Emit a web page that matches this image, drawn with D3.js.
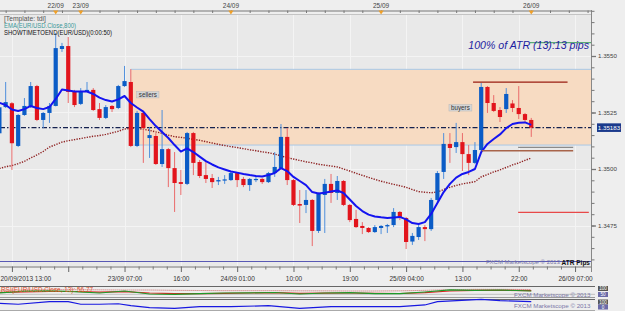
<!DOCTYPE html>
<html><head><meta charset="utf-8">
<script src="https://cdn.jsdelivr.net/npm/d3@7"></script>
<style>body{margin:0;background:#eeeeee;}svg{display:block;font-family:"Liberation Sans",Arial,sans-serif;}</style>
</head><body><svg id="c" width="625" height="311"></svg>
<script>
// ---------- DATA (EUR/USD hourly) ----------
const openP = [1.35158,1.35274,1.35291,1.35102,1.35239,1.35279,1.35367,1.35217,1.35248,1.35279,
1.35531,1.35544,1.35345,1.35288,1.35345,1.35350,1.35265,1.35226,1.35279,1.35270,
1.35367,1.35385,1.35102,1.35248,1.35137,1.35146,1.35022,1.35088,1.35004,1.34942,
1.34934,1.35159,1.35031,1.34973,1.34960,1.34945,1.34949,1.34951,1.34982,1.34956,
1.34929,1.34951,1.34956,1.34942,1.34982,1.35004,1.35142,1.34951,1.34845,1.34841,
1.34863,1.34726,1.34885,1.34934,1.34894,1.34947,1.34841,1.34779,1.34748,1.34739,
1.34721,1.34739,1.34746,1.34752,1.34810,1.34783,1.34679,1.34699,1.34743,1.34734,
1.34863,1.34987,1.35111,1.35097,1.35119,1.35066,1.35027,1.35084,1.35363,1.35292,
1.35261,1.35265,1.35290,1.35270,1.35243,1.35217];
const highP = [1.35283,1.35385,1.35296,1.35243,1.35314,1.35385,1.35372,1.35252,1.35292,1.35602,
1.35558,1.35584,1.35350,1.35358,1.35385,1.35358,1.35292,1.35283,1.35283,1.35372,
1.35456,1.35442,1.35257,1.35257,1.35186,1.35159,1.35261,1.35093,1.35075,1.34996,
1.35164,1.35164,1.35040,1.35031,1.34978,1.34965,1.34973,1.34987,1.34987,1.34965,
1.34960,1.34965,1.34960,1.34987,1.35075,1.35199,1.35181,1.34956,1.34907,1.34907,
1.34867,1.34896,1.34956,1.34978,1.34969,1.34951,1.34845,1.34819,1.34765,1.34743,
1.34752,1.34752,1.34757,1.34827,1.34814,1.34788,1.34717,1.34752,1.34752,1.34872,
1.34991,1.35159,1.35159,1.35204,1.35159,1.35106,1.35119,1.35381,1.35367,1.35327,
1.35274,1.35358,1.35305,1.35367,1.35248,1.35226];
const lowP = [1.35150,1.35270,1.34996,1.35097,1.35235,1.35270,1.35212,1.35181,1.35204,1.35277,
1.35518,1.35292,1.35274,1.35283,1.35341,1.35257,1.35217,1.35221,1.35252,1.35265,
1.35363,1.35097,1.35097,1.35027,1.35049,1.35018,1.35009,1.34920,1.34810,1.34885,
1.34929,1.34973,1.34960,1.34938,1.34916,1.34929,1.34934,1.34947,1.34920,1.34920,
1.34903,1.34942,1.34934,1.34938,1.34965,1.35000,1.34929,1.34836,1.34761,1.34805,
1.34659,1.34717,1.34717,1.34850,1.34863,1.34836,1.34765,1.34739,1.34712,1.34717,
1.34717,1.34712,1.34717,1.34743,1.34774,1.34646,1.34664,1.34686,1.34681,1.34726,
1.34854,1.34956,1.35027,1.35071,1.34991,1.34973,1.35022,1.35080,1.35248,1.35252,
1.35208,1.35248,1.35252,1.35221,1.35208,1.35142];
const closeP = [1.35273,1.35296,1.35114,1.35239,1.35279,1.35367,1.35217,1.35248,1.35279,1.35535,
1.35544,1.35341,1.35283,1.35345,1.35350,1.35261,1.35226,1.35274,1.35265,1.35367,
1.35389,1.35102,1.35248,1.35181,1.35150,1.35022,1.35088,1.35004,1.34938,1.34934,
1.35159,1.35027,1.34969,1.34956,1.34942,1.34951,1.34954,1.34982,1.34951,1.34929,
1.34956,1.34956,1.34942,1.34982,1.35009,1.35142,1.34951,1.34841,1.34838,1.34863,
1.34726,1.34894,1.34934,1.34894,1.34947,1.34841,1.34774,1.34743,1.34739,1.34721,
1.34743,1.34748,1.34752,1.34810,1.34783,1.34677,1.34704,1.34743,1.34734,1.34863,
1.34982,1.35111,1.35093,1.35119,1.35066,1.35027,1.35084,1.35363,1.35292,1.35257,
1.35230,1.35332,1.35270,1.35243,1.35217,1.35183];
const emaFast = [1.35293,1.35283,1.35263,1.35257,1.35265,1.35279,1.35270,1.35265,1.35274,1.35310,
1.35352,1.35347,1.35343,1.35343,1.35343,1.35332,1.35316,1.35305,1.35299,1.35308,
1.35323,1.35292,1.35272,1.35254,1.35221,1.35190,1.35164,1.35137,1.35106,1.35077,
1.35091,1.35075,1.35055,1.35035,1.35020,1.35007,1.34998,1.34989,1.34984,1.34978,
1.34973,1.34969,1.34967,1.34973,1.34982,1.35004,1.34991,1.34965,1.34947,1.34929,
1.34898,1.34892,1.34895,1.34900,1.34905,1.34894,1.34865,1.34836,1.34814,1.34798,
1.34790,1.34786,1.34783,1.34785,1.34788,1.34777,1.34761,1.34757,1.34765,1.34801,
1.34850,1.34898,1.34934,1.34962,1.34978,1.34987,1.35000,1.35075,1.35111,1.35133,
1.35153,1.35181,1.35199,1.35205,1.35206,1.35195];
const emaSlow = [1.35002,1.35010,1.35015,1.35024,1.35034,1.35049,1.35062,1.35078,1.35097,1.35108,
1.35119,1.35125,1.35130,1.35135,1.35140,1.35145,1.35148,1.35153,1.35160,1.35167,
1.35177,1.35180,1.35180,1.35176,1.35171,1.35164,1.35158,1.35150,1.35143,1.35140,
1.35136,1.35131,1.35127,1.35121,1.35115,1.35109,1.35104,1.35099,1.35095,1.35090,
1.35085,1.35081,1.35076,1.35072,1.35066,1.35058,1.35050,1.35044,1.35038,1.35032,
1.35027,1.35021,1.35017,1.35013,1.35009,1.35000,1.34991,1.34981,1.34972,1.34963,
1.34954,1.34946,1.34939,1.34932,1.34926,1.34919,1.34909,1.34900,1.34897,1.34895,
1.34898,1.34909,1.34919,1.34927,1.34934,1.34939,1.34944,1.34965,1.34976,1.34987,
1.34996,1.35007,1.35018,1.35027,1.35038,1.35049];

const lastPrice = 1.35183;
const priceTicks = [1.3475, 1.3500, 1.3525, 1.3550];
const priceTickLabels = ["1.3475","1.3500","1.3525","1.3550"];
const timeTickIdx = [2,11,20,29,38,47,56,65,74,83,92];
const timeTickLabels = ["20/09/2013 13:00","","23/09 07:00","16:00","24/09 01:00","10:00","19:00","25/09 04:00","13:00","22:00","26/09 07:00"];
const dayIdx = [9,13,37,61,85];
const dayLabels = ["22/09","23/09","24/09","25/09","26/09"];
const zone = {start:21, top:1.35441, bottom:1.35106};
const rangeHigh = {from:75.7, to:90.8, price:1.35384};
const rangeLow = {from:77.1, to:91.7, price:1.35081};
const grayLevel = {from:82.9, to:91.7, price:1.35096};
const atrTarget = {from:82.9, to:94.2, price:1.34808};
const notes = [{idx:21.95, price:1.35330, text:"sellers"},{idx:71.85, price:1.35272, text:"buyers"}];
const legendLines = ["[Template: tdi]","EMA(EUR/USD.Close,800)","SHOWTIMETOEND(EUR/USD)(0:00:50)"];
const atrTitle = "100% of ATR (13):13 pips";
// lower panels
const tdiIdx = [0,4,8,12,16,20,24,28,32,36,40,44,48,52,56,60,64,68,72,76,80,85];
const tdiPrice = [44,55,57,52,44,56,38,36,40,44,45,47,38,44,46,40,40,50,63,60,62,56];
const tdiSignal = [48,50,53,53,49,52,44,40,40,42,44,46,42,43,44,42,41,46,56,60,60,58];
const tdiUpper = [60,62,64,64,63,62,62,60,59,58,58,58,57,57,56,56,57,60,64,66,66,65];
const atrIdx = [0,3,8,11,13,16,19,21,24,28,32,37,43,48,53,64,68,70,77,80,85];
const atrVal = [56,48,69,69,48,48,52,36,19,14,28,28,36,14,28,28,42,69,89,78,69];

// ---------- DRAW ----------
const W=625,H=311, plotR=591, plotT=15, plotB=266;
const svg = d3.select("#c");
const x = d3.scaleLinear().domain([0,94.5]).range([-0.6,590.7]);
const y = d3.scaleLinear().domain([1.3475,1.3550]).range([225.5,56]);
const n = closeP.length;
const idx = d3.range(n);

svg.append("rect").attr("width",W).attr("height",H).attr("fill","#eeeeee");
svg.append("defs").append("clipPath").attr("id","pc").append("rect")
  .attr("x",0).attr("y",plotT).attr("width",plotR).attr("height",plotB-plotT);
svg.append("rect").attr("x",0).attr("y",plotT).attr("width",plotR).attr("height",plotB-plotT).attr("fill","#e9e9e9");
const P = svg.append("g").attr("clip-path","url(#pc)");

// grid
P.selectAll(".vg").data(timeTickIdx).join("line")
  .attr("x1",d=>Math.round(x(d))+0.5).attr("x2",d=>Math.round(x(d))+0.5)
  .attr("y1",plotT).attr("y2",plotB).attr("stroke","#f4f4f4");
P.selectAll(".hg").data(priceTicks).join("line")
  .attr("x1",0).attr("x2",plotR).attr("y1",d=>Math.round(y(d))+0.5).attr("y2",d=>Math.round(y(d))+0.5)
  .attr("stroke","#f4f4f4");

// zone
P.append("rect").attr("x",x(zone.start)).attr("y",y(zone.top))
  .attr("width",plotR-x(zone.start)).attr("height",y(zone.bottom)-y(zone.top)).attr("fill","#f7dbc2");
[zone.top, zone.bottom].forEach(v=>P.append("line").attr("x1",x(zone.start)).attr("x2",plotR)
  .attr("y1",y(v)).attr("y2",y(v)).attr("stroke","#a9c8e6").attr("stroke-width",1));

// last price dash-dot
P.append("line").attr("x1",0).attr("x2",plotR).attr("y1",y(lastPrice)).attr("y2",y(lastPrice))
  .attr("stroke","#14214f").attr("stroke-width",1.2).attr("stroke-dasharray","5,2,1.5,2");

// slow EMA dotted
P.append("path").datum(idx).attr("fill","none").attr("stroke","#8e2020").attr("stroke-width",1.4)
  .attr("stroke-dasharray","1.3,1.3")
  .attr("d",d3.line().x(i=>x(i)).y(i=>y(emaSlow[i])));

// candles
const up = i=>closeP[i]>=openP[i];
P.selectAll(".wick").data(idx).join("line")
  .attr("x1",i=>x(i)).attr("x2",i=>x(i)).attr("y1",i=>y(highP[i])).attr("y2",i=>y(lowP[i]))
  .attr("stroke",i=>up(i)?"#4f8fdc":"#ea6a6a").attr("stroke-width",1);
P.selectAll(".body").data(idx).join("rect")
  .attr("x",i=>x(i)-2.1).attr("width",4.2)
  .attr("y",i=>y(Math.max(openP[i],closeP[i])))
  .attr("height",i=>Math.max(1.2,Math.abs(y(openP[i])-y(closeP[i]))))
  .attr("fill",i=>up(i)?"#0b5cc6":"#e2141c");

// fast EMA
P.append("path").datum(idx).attr("fill","none").attr("stroke","#1414f0").attr("stroke-width",2)
  .attr("stroke-linejoin","round")
  .attr("d",d3.line().x(i=>x(i)).y(i=>y(emaFast[i])));

// levels
P.append("line").attr("x1",x(rangeHigh.from)).attr("x2",x(rangeHigh.to)).attr("y1",y(rangeHigh.price)).attr("y2",y(rangeHigh.price))
  .attr("stroke","#9a1c10").attr("stroke-width",1.3);
svg.append("line").attr("x1",x(grayLevel.from)).attr("x2",x(grayLevel.to)).attr("y1",y(grayLevel.price)).attr("y2",y(grayLevel.price))
  .attr("stroke","#8a8a8a").attr("stroke-width",1.2);
svg.append("line").attr("x1",x(rangeLow.from)).attr("x2",x(rangeLow.to)).attr("y1",y(rangeLow.price)).attr("y2",y(rangeLow.price))
  .attr("stroke","#a8644a").attr("stroke-width",1.6);
P.append("line").attr("x1",x(atrTarget.from)).attr("x2",x(atrTarget.to)).attr("y1",y(atrTarget.price)).attr("y2",y(atrTarget.price))
  .attr("stroke","#e84848").attr("stroke-width",1.2);

// notes
notes.forEach(nt=>{
  const g = svg.append("g");
  const t = g.append("text").attr("x",x(nt.idx)+2).attr("y",y(nt.price)+2.2).attr("font-size","6.3px").attr("fill","#333").text(nt.text);
  const w = t.node().getComputedTextLength();
  g.insert("rect","text").attr("x",x(nt.idx)).attr("y",y(nt.price)-3).attr("width",w+4).attr("height",6.5)
    .attr("fill","#d6d6d6").attr("stroke","#b8b8b8").attr("stroke-width",0.5);
});

// main-panel bottom indicator line and watermark
svg.append("line").attr("x1",0).attr("x2",plotR).attr("y1",261.5).attr("y2",261.5).attr("stroke","#5858b4").attr("stroke-width",1);
svg.append("text").attr("x",560).attr("y",264).attr("text-anchor","end").attr("font-size","6px").attr("fill","#7a78a8").text("FXCM Marketscope © 2013");
svg.append("text").attr("x",590).attr("y",264.5).attr("text-anchor","end").attr("font-size","6.5px").attr("font-weight","bold").attr("fill","#111").text("ATR Pips");

// ATR title
svg.append("line").attr("x1",530).attr("x2",plotR).attr("y1",42.7).attr("y2",42.7).attr("stroke","#3a9a5a").attr("stroke-width",1);
svg.append("text").attr("x",589).attr("y",49).attr("text-anchor","end").attr("font-size","10.6px").attr("font-style","italic")
  .attr("fill","#1c1ca0").text(atrTitle);

// legend
const legColors = ["#555555","#3a9898","#111111"];
const legW = [42,72,108];
legendLines.forEach((t,k)=>svg.append("text").attr("x",4).attr("y",21+k*7.2).attr("font-size","6.4px")
  .attr("fill",legColors[k]).attr("textLength",legW[k]).attr("lengthAdjust","spacingAndGlyphs").text(t));

// plot border
svg.append("line").attr("x1",0).attr("x2",plotR).attr("y1",plotT-0.5).attr("y2",plotT-0.5).attr("stroke","#c4c4c4");

// top axis
svg.append("g").attr("transform","translate(0,10.5)")
  .call(d3.axisBottom(x).tickValues(d3.range(1,95,3)).tickSize(2.5).tickSizeOuter(0).tickFormat(""))
  .call(g=>{g.select(".domain").attr("stroke","#777");g.selectAll(".tick line").attr("stroke","#777");});
dayIdx.forEach((d,k)=>{
  const cx=x(d);
  svg.append("path").attr("d",`M${cx-2.6},10.5L${cx+2.6},10.5L${cx},14.5Z`).attr("fill","#f0a028");
  svg.append("text").attr("x",cx).attr("y",7.6).attr("text-anchor","middle").attr("font-size","6.5px").attr("fill","#444").text(dayLabels[k]);
});

// bottom axis
const minorIdx = [];
timeTickIdx.forEach(t=>{[0.25,0.5,0.75].forEach(f=>{const v=t-9+9*f; if(v>0) minorIdx.push(v);});});
svg.append("g").attr("transform","translate(0,266.5)")
  .call(d3.axisBottom(x).tickValues(minorIdx).tickSize(3).tickSizeOuter(0).tickFormat(""))
  .call(g=>{g.select(".domain").attr("stroke","#777");g.selectAll(".tick line").attr("stroke","#777");});
const bx = svg.append("g").attr("transform","translate(0,266.5)")
  .call(d3.axisBottom(x).tickValues(timeTickIdx).tickSize(5.5).tickSizeOuter(0).tickPadding(4)
    .tickFormat((d,k)=>timeTickLabels[k]));
bx.select(".domain").remove();
bx.selectAll(".tick line").attr("stroke","#666");
bx.selectAll(".tick text").attr("font-size","6.5px").attr("fill","#333").attr("font-family","Liberation Sans, Arial, sans-serif");
bx.selectAll(".tick text").filter((d,k)=>k===0).attr("text-anchor","start").attr("x",-x(timeTickIdx[0]));

// right axis
svg.append("line").attr("x1",plotR+0.5).attr("x2",plotR+0.5).attr("y1",10).attr("y2",272).attr("stroke","#888");
const minorP = d3.range(0,23).map(k=>+(1.3460+k*0.0005).toFixed(4));
svg.append("g").attr("transform",`translate(${plotR+0.5},0)`)
  .call(d3.axisRight(y).tickValues(minorP).tickSize(3).tickFormat(""))
  .call(g=>{g.select(".domain").remove();g.selectAll(".tick line").attr("stroke","#777");});
const ry = svg.append("g").attr("transform",`translate(${plotR+0.5},0)`)
  .call(d3.axisRight(y).tickValues(priceTicks).tickSize(4.5).tickPadding(2).tickFormat((d,k)=>priceTickLabels[k]));
ry.select(".domain").remove();
ry.selectAll(".tick line").attr("stroke","#777").attr("stroke-width",1.3);
ry.selectAll(".tick text").attr("font-size","6.2px").attr("fill","#444").attr("font-family","Liberation Sans, Arial, sans-serif");

// last price box
svg.append("rect").attr("x",597).attr("y",y(lastPrice)-4.3).attr("width",24).attr("height",8.6).attr("fill","#1a3a8c");
svg.append("text").attr("x",609).attr("y",y(lastPrice)+2.2).attr("text-anchor","middle").attr("font-size","6.2px").attr("fill","#fff").text(lastPrice.toFixed(5));

// ---------- lower panels ----------
const yT = d3.scaleLinear().domain([20,80]).range([297,287]);
const yA = d3.scaleLinear().domain([0,100]).range([310,298]);
[[286.5,"#666"],[294.3,"#c0c0c0"],[297.5,"#999"],[299.5,"#666"],[310.5,"#aaa"]].forEach(([yy,c])=>
  svg.append("line").attr("x1",0).attr("x2",595).attr("y1",yy).attr("y2",yy).attr("stroke",c));
svg.append("path").datum(d3.range(tdiIdx.length)).attr("fill","none").attr("stroke","#c86060").attr("stroke-width",1)
  .attr("stroke-dasharray","1,1").attr("d",d3.line().x(k=>x(tdiIdx[k])).y(k=>yT(tdiUpper[k])));
svg.append("path").datum(d3.range(tdiIdx.length)).attr("fill","none").attr("stroke","#e02020").attr("stroke-width",1.2)
  .attr("d",d3.line().x(k=>x(tdiIdx[k])).y(k=>yT(tdiSignal[k])));
svg.append("path").datum(d3.range(tdiIdx.length)).attr("fill","none").attr("stroke","#1f9a2a").attr("stroke-width",1.2)
  .attr("d",d3.line().x(k=>x(tdiIdx[k])).y(k=>yT(tdiPrice[k])));
svg.append("text").attr("x",1).attr("y",292).attr("font-size","6.3px").attr("fill","#e2502c")
  .attr("textLength",92).attr("lengthAdjust","spacingAndGlyphs").text("RSI(EUR/USD.Close, 13): 56.77");
svg.append("text").attr("x",514).attr("y",297).attr("font-size","6.2px").attr("fill","#7a78a8").text("FXCM Marketscope © 2013");
svg.append("path").datum(d3.range(atrIdx.length)).attr("fill","none").attr("stroke","#1818e0").attr("stroke-width",1.2)
  .attr("d",d3.line().x(k=>x(atrIdx[k])).y(k=>yA(atrVal[k])));
svg.append("text").attr("x",514).attr("y",308).attr("font-size","6.2px").attr("fill","#7a78a8").text("FXCM Marketscope © 2013");
// right-side value tags
[[286,"100","#555"],[292,"50","#6a6aa8"],[299.5,"100","#555"],[304.5,"0","#6a6aa8"]].forEach(([yy,t,c])=>{
  svg.append("rect").attr("x",598).attr("y",yy).attr("width",10).attr("height",5).attr("fill",c);
  svg.append("text").attr("x",603).attr("y",yy+4.2).attr("text-anchor","middle").attr("font-size","4.6px").attr("fill","#fff").text(t);
});
</script></body></html>
